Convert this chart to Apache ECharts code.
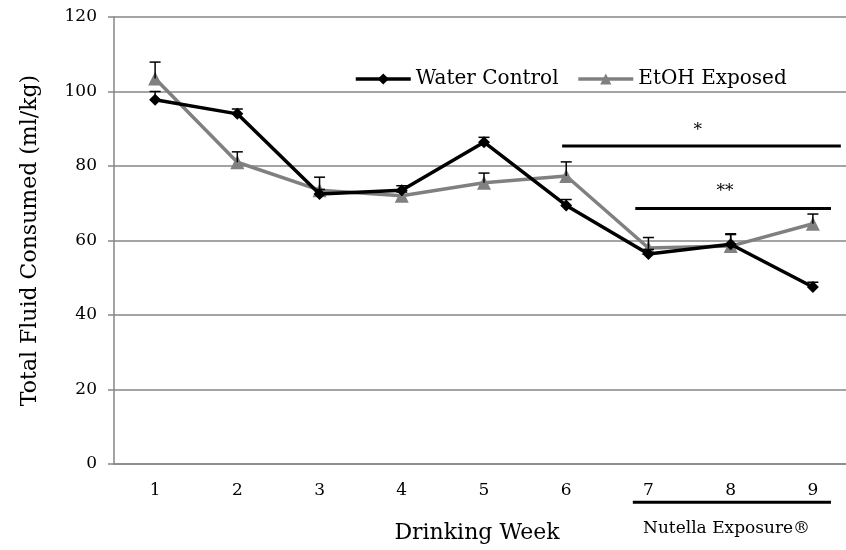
<!DOCTYPE html>
<html>
<head>
<meta charset="utf-8">
<script src="https://cdn.jsdelivr.net/npm/echarts@6/dist/echarts.min.js"></script>
<style>
  html, body { margin: 0; padding: 0; background: #fff; }
  #chart { width: 846px; height: 550px; }
</style>
</head>
<body>
<div id="chart"></div>
<script>
const weeks = ['1', '2', '3', '4', '5', '6', '7', '8', '9'];
const waterControl = [97.8, 94, 72.5, 73.5, 86.4, 69.4, 56.4, 59, 47.5];
const waterErr = [2.2, 1.3, 1.2, 1.2, 1.3, 1.6, 1.2, 2.6, 1.3];
const etohExposed = [103.5, 81, 73.5, 72, 75.5, 77.3, 58, 58.5, 64.5];
const etohErr = [4.4, 2.8, 3.5, 1.0, 2.6, 3.8, 2.8, 3.3, 2.6];

// significance bars: [xStart, xEnd, y, label, labelX, labelY]
const sigBars = [
  [5.95, 9.34, 85.4, '*', 7.6, 89.6],
  [6.84, 9.22, 68.6, '**', 7.93, 73.2]
];
// bracket below the axis for weeks 7-9
const nutellaBar = [[6.81, 9.22, -10.3, 'Nutella Exposure\u00ae', 7.95, -17.4]];

const FONT = 'DejaVu Serif';
const chart = echarts.init(document.getElementById('chart'));

function errItem(vals, errs) {
  return vals.map((v, i) => [i, v, v + errs[i]]);
}

const errRender = (params, api) => {
  const base = api.coord([api.value(0), api.value(1)]);
  const top = api.coord([api.value(0), api.value(2)]);
  const style = { stroke: '#000', lineWidth: 1.5 };
  return {
    type: 'group',
    children: [
      { type: 'line', shape: { x1: base[0], y1: base[1], x2: top[0], y2: top[1] }, style },
      { type: 'line', shape: { x1: top[0] - 5.5, y1: top[1], x2: top[0] + 5.5, y2: top[1] }, style }
    ]
  };
};

function barRenderFor(rows, fontSize) {
  return (params, api) => {
    const a = api.coord([api.value(0), api.value(2)]);
    const b = api.coord([api.value(1), api.value(2)]);
    const t = api.coord([api.value(3), api.value(4)]);
    return {
      type: 'group',
      children: [
        { type: 'line', shape: { x1: a[0], y1: a[1], x2: b[0], y2: b[1] }, style: { stroke: '#000', lineWidth: 3 } },
        { type: 'text', x: t[0], y: t[1], style: {
            text: rows[params.dataIndex][3], align: 'center', verticalAlign: 'middle',
            font: fontSize + 'px ' + FONT, fill: '#000'
          } }
      ]
    };
  };
}

chart.setOption({
  backgroundColor: '#fff',
  animation: false,
  textStyle: { fontFamily: FONT, color: '#000' },
  grid: { left: 114, width: 740, top: 17, bottom: 86, containLabel: false, outerBoundsMode: 'none' },
  legend: {
    data: ['Water Control', 'EtOH Exposed'],
    left: 349, top: 64,
    itemWidth: 55, itemHeight: 14, itemGap: 18,
    lineStyle: { width: 3.5 },
    textStyle: { fontFamily: FONT, fontSize: 20, color: '#000' }
  },
  xAxis: [{
    type: 'category',
    data: weeks,
    boundaryGap: true,
    axisLine: { lineStyle: { color: '#868686', width: 1.5 } },
    axisTick: { length: 6, lineStyle: { color: '#868686', width: 1.5 } },
    axisLabel: { fontFamily: FONT, fontSize: 17, color: '#000', margin: 18 },
    name: 'Drinking Week',
    nameLocation: 'middle',
    nameGap: 58,
    nameTextStyle: { fontFamily: FONT, fontSize: 22, color: '#000', padding: [0, 14, 0, 0] }
  }, {
    type: 'value', min: 0.5, max: 9.5, show: false
  }],
  yAxis: {
    type: 'value',
    min: 0, max: 120, interval: 20,
    axisLine: { show: true, lineStyle: { color: '#868686', width: 1.5 } },
    axisTick: { show: true, length: 6, lineStyle: { color: '#868686', width: 1.5 } },
    splitLine: { lineStyle: { color: '#868686', width: 1.5 } },
    axisLabel: { fontFamily: FONT, fontSize: 17, color: '#000', margin: 17 },
    name: 'Total Fluid Consumed (ml/kg)',
    nameLocation: 'middle',
    nameGap: 73,
    nameTextStyle: { fontFamily: FONT, fontSize: 22, color: '#000' }
  },
  series: [
    {
      name: 'Water Control', type: 'line', data: waterControl,
      symbol: 'diamond', symbolSize: 12, z: 4,
      itemStyle: { color: '#000' }, lineStyle: { color: '#000', width: 3.5 }
    },
    {
      name: 'EtOH Exposed', type: 'line', data: etohExposed,
      symbol: 'triangle', symbolSize: 14, z: 3,
      itemStyle: { color: '#808080' }, lineStyle: { color: '#808080', width: 3.5 }
    },
    { name: 'errWater', type: 'custom', data: errItem(waterControl, waterErr), renderItem: errRender, z: 5 },
    { name: 'errEtoh', type: 'custom', data: errItem(etohExposed, etohErr), renderItem: errRender, z: 5 },
    {
      name: 'sig', type: 'custom', xAxisIndex: 1, clip: false, z: 6,
      data: sigBars.map(r => [r[0], r[1], r[2], r[4], r[5]]),
      renderItem: barRenderFor(sigBars, 17)
    },
    {
      name: 'nutella', type: 'custom', xAxisIndex: 1, clip: false, z: 6,
      data: nutellaBar.map(r => [r[0], r[1], r[2], r[4], r[5]]),
      renderItem: barRenderFor(nutellaBar, 17)
    }
  ]
});
</script>
</body>
</html>
